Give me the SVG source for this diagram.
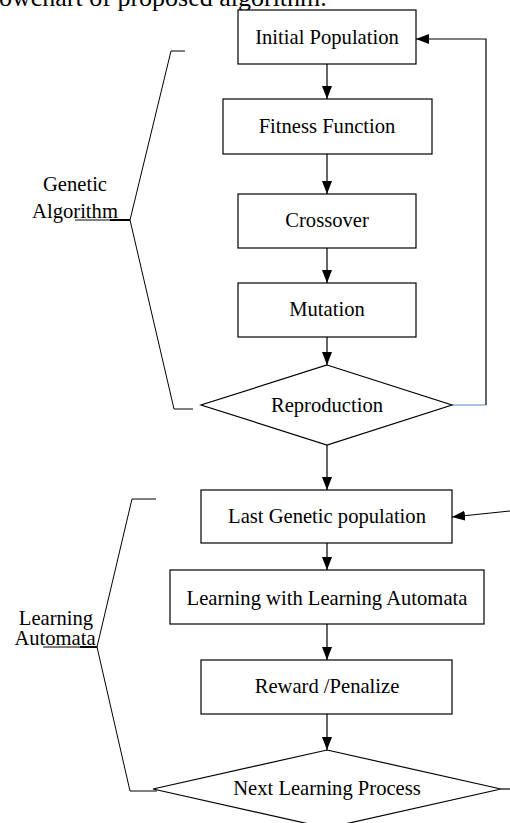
<svg xmlns="http://www.w3.org/2000/svg" width="510" height="823" viewBox="0 0 510 823">
  <style>
    .box { fill: #fff; stroke: #000; stroke-width: 1.2; }
    .lbl { font-family: "Liberation Serif", "Times New Roman", serif; font-size: 20.6px; fill: #000; text-anchor: middle; }
    .side { font-family: "Liberation Serif", "Times New Roman", serif; font-size: 20.6px; fill: #000; text-anchor: middle; }
    .wire { fill: none; stroke: #000; stroke-width: 1.2; }
    .brace { fill: none; stroke: #000; stroke-width: 1; }
  </style>
  <defs>
    <marker id="arrow" markerUnits="userSpaceOnUse" markerWidth="14" markerHeight="10" refX="13" refY="5" orient="auto">
      <path d="M0,0 L13,5 L0,10 Z" fill="#000"/>
    </marker>
  </defs>

  <rect width="510" height="823" fill="#fff"/>

  <!-- caption line, running off the top edge -->
  <text x="-1" y="6" font-family="Liberation Serif, serif" font-size="26" fill="#000">owchart of proposed algorithm.</text>

  <!-- connectors -->
  <g id="connectors">
    <line class="wire" x1="327" y1="64" x2="327" y2="99" marker-end="url(#arrow)"/>
    <line class="wire" x1="327" y1="154" x2="327" y2="194" marker-end="url(#arrow)"/>
    <line class="wire" x1="327" y1="248" x2="327" y2="283" marker-end="url(#arrow)"/>
    <line class="wire" x1="327" y1="337" x2="327" y2="365" marker-end="url(#arrow)"/>
    <line class="wire" x1="327" y1="445" x2="327" y2="490" marker-end="url(#arrow)"/>
    <line class="wire" x1="327" y1="543" x2="327" y2="570" marker-end="url(#arrow)"/>
    <line class="wire" x1="327" y1="624" x2="327" y2="660" marker-end="url(#arrow)"/>
    <line class="wire" x1="327" y1="714" x2="327" y2="750" marker-end="url(#arrow)"/>
    <!-- loop back to the initial population -->
    <line x1="452" y1="405" x2="486" y2="405" stroke="#8eb0dc" stroke-width="1.4"/>
    <polyline class="wire" points="486,405 486,39 416,39" marker-end="url(#arrow)"/>
    <!-- entry from the right into the last genetic population -->
    <line class="wire" x1="510" y1="511" x2="452" y2="517" marker-end="url(#arrow)"/>
    <line class="wire" x1="501" y1="789" x2="510" y2="789"/>
  </g>

  <!-- genetic algorithm part -->
  <g id="initial-population">
    <rect class="box" x="238" y="10" width="178" height="54"/>
    <text class="lbl" x="327" y="44">Initial Population</text>
  </g>
  <g id="fitness-function">
    <rect class="box" x="223" y="99" width="209" height="55"/>
    <text class="lbl" x="327" y="133">Fitness Function</text>
  </g>
  <g id="crossover">
    <rect class="box" x="238" y="194" width="178" height="54"/>
    <text class="lbl" x="327" y="227">Crossover</text>
  </g>
  <g id="mutation">
    <rect class="box" x="238" y="283" width="178" height="54"/>
    <text class="lbl" x="327" y="316">Mutation</text>
  </g>
  <g id="reproduction">
    <polygon class="box" points="327,365 452,405 327,445 201,405"/>
    <text class="lbl" x="327" y="412">Reproduction</text>
  </g>

  <!-- learning automata part -->
  <g id="last-genetic-population">
    <rect class="box" x="201" y="490" width="251" height="53"/>
    <text class="lbl" x="327" y="523">Last Genetic population</text>
  </g>
  <g id="learning-with-la">
    <rect class="box" x="170" y="570" width="314" height="54"/>
    <text class="lbl" x="327" y="605">Learning with Learning Automata</text>
  </g>
  <g id="reward-penalize">
    <rect class="box" x="201" y="660" width="251" height="54"/>
    <text class="lbl" x="327" y="693">Reward /Penalize</text>
  </g>
  <g id="next-learning-process">
    <polygon class="box" points="327,750 501,789 327,828 153,789"/>
    <text class="lbl" x="327" y="795">Next Learning Process</text>
  </g>

  <!-- group braces with their labels -->
  <g id="genetic-algorithm-brace">
    <polyline class="brace" points="185,51 171,51 130,220 174,409 193,409"/>
    <line class="brace" x1="75" y1="220" x2="130" y2="220"/>
    <line x1="110" y1="220" x2="130" y2="220" stroke="#000" stroke-width="2"/>
    <text class="side" x="75" y="191">Genetic</text>
    <text class="side" x="75" y="218">Algorithm</text>
  </g>
  <g id="learning-automata-brace">
    <polyline class="brace" points="156,499 132,499 97,647 130,791 157,791"/>
    <line class="brace" x1="43" y1="647" x2="97" y2="647"/>
    <line x1="80" y1="647" x2="97" y2="647" stroke="#000" stroke-width="2"/>
    <text class="side" x="56" y="625">Learning</text>
    <text class="side" x="55" y="645">Automata</text>
  </g>
</svg>
